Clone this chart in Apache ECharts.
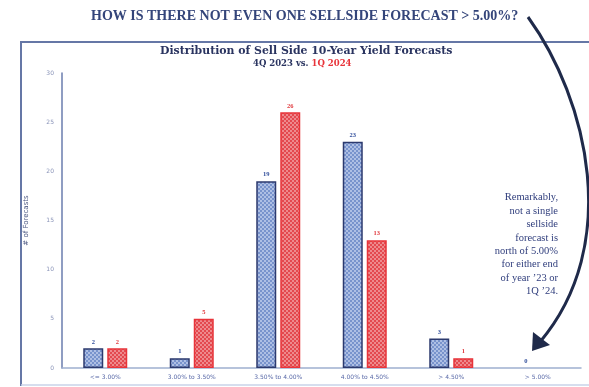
<!DOCTYPE html>
<html>
<head>
<meta charset="utf-8">
<script src="https://cdn.jsdelivr.net/npm/echarts@6/dist/echarts.min.js"></script>
<style>
  html, body { margin: 0; padding: 0; background: #fff; }
  #chart { width: 589px; height: 387px; }
</style>
</head>
<body>
<div id="chart"></div>
<script>
// Forecast buckets and counts of sell-side 10-year yield forecasts
const categories = ['<= 3.00%', '3.00% to 3.50%', '3.50% to 4.00%', '4.00% to 4.50%', '> 4.50%', '> 5.00%'];
const q4_2023 = [2, 1, 19, 23, 3, 0];
const q1_2024 = [2, 5, 26, 13, 1, 0];
const yTicks = [0, 5, 10, 15, 20, 25, 30];

// small woven fill texture for the bars
function weave(c1, c2) {
  const cv = document.createElement('canvas');
  cv.width = 4; cv.height = 4;
  const g = cv.getContext('2d');
  g.fillStyle = c1; g.fillRect(0, 0, 4, 4);
  g.fillStyle = c2;
  g.fillRect(0, 0, 2, 2); g.fillRect(2, 2, 2, 2);
  return { image: cv, repeat: 'repeat' };
}

// empty buckets get no outline so nothing is drawn on the baseline
const asItems = arr => arr.map(v => v === 0 ? { value: v, itemStyle: { borderWidth: 0 } } : v);

const navy = '#2c3a6e';
const blueFill = weave('#7893cc', '#aebfe4');
const redFill = weave('#e3494f', '#ee8a8d');

const chart = echarts.init(document.getElementById('chart'));

const labelFont = { fontSize: 6.5, fontFamily: 'Liberation Serif', fontWeight: 'bold' };

chart.setOption({
  animation: false,
  grid: { left: 62, right: 8, top: 73, bottom: 19 },
  xAxis: {
    type: 'category',
    data: categories,
    axisLine: { lineStyle: { color: '#9fb0d0', width: 1.5 } },
    axisTick: { show: false },
    axisLabel: { color: '#5a6aa8', fontSize: 6, fontFamily: 'DejaVu Sans', margin: 6, interval: 0 }
  },
  yAxis: {
    type: 'value',
    min: 0, max: 30, interval: 5,
    name: '# of Forecasts',
    nameLocation: 'middle',
    nameGap: 32,
    nameTextStyle: { color: '#4a5680', fontSize: 7, fontFamily: 'DejaVu Sans' },
    axisLine: { show: true, lineStyle: { color: '#6a7cae', width: 1.5 } },
    axisTick: { show: false },
    splitLine: { show: false },
    axisLabel: {
      color: '#8a94b8', fontSize: 6, fontFamily: 'DejaVu Sans', margin: 8,
      formatter: v => yTicks.includes(v) ? String(v) : ''
    }
  },
  series: [
    {
      name: '4Q 2023', type: 'bar', data: asItems(q4_2023),
      barWidth: 20, barGap: '20%',
      itemStyle: { color: blueFill, borderColor: navy, borderWidth: 1.5 },
      label: { show: true, position: 'top', distance: 3, color: '#2e4c9a', ...labelFont }
    },
    {
      name: '1Q 2024', type: 'bar', data: asItems(q1_2024),
      barWidth: 20,
      itemStyle: { color: redFill, borderColor: '#e8343a', borderWidth: 1.5 },
      label: {
        show: true, position: 'top', distance: 3, color: '#e03a3e', ...labelFont,
        formatter: p => p.value === 0 ? '' : String(p.value)
      }
    }
  ],
  graphic: [
    // frame around the chart panel
    { type: 'polyline', silent: true,
      shape: { points: [[600, 42], [21, 42], [21, 386]] },
      style: { stroke: '#6577a6', lineWidth: 2, fill: null } },
    { type: 'line', silent: true,
      shape: { x1: 21, y1: 385, x2: 600, y2: 385 },
      style: { stroke: '#c9d3e8', lineWidth: 1.5 } },
    // headline
    { type: 'text', x: 91, y: 9,
      style: { text: 'HOW IS THERE NOT EVEN ONE SELLSIDE FORECAST > 5.00%?',
        fill: '#34457a', font: 'bold 14px "Liberation Serif"' } },
    // chart title
    { type: 'text', x: 160, y: 46,
      style: { text: 'Distribution of Sell Side 10-Year Yield Forecasts',
        fill: '#2a3460', font: 'bold 10.9px "DejaVu Serif"' } },
    { type: 'text', x: 253, y: 59,
      style: {
        text: '{a|4Q 2023 vs. }{b|1Q 2024}',
        rich: {
          a: { fill: '#2a3460', font: 'bold 8.5px "DejaVu Serif"' },
          b: { fill: '#e8343a', font: 'bold 8.5px "DejaVu Serif"' }
        }
      } },
    // side note
    { type: 'text', x: 558, y: 191,
      style: {
        text: 'Remarkably,\nnot a single\nsellside\nforecast is\nnorth of 5.00%\nfor either end\nof year \u201923 or\n1Q \u201924.',
        fill: '#2f3d7c', font: '10.5px "Liberation Serif"', align: 'right', lineHeight: 13.4
      } },
    // curved arrow from the headline down to the empty bucket
    { type: 'bezierCurve', silent: true,
      shape: { x1: 528, y1: 17, cpx1: 588, cpy1: 100, cpx2: 622, cpy2: 245, x2: 540, y2: 342 },
      style: { stroke: '#1f2a4a', lineWidth: 3, fill: null } },
    { type: 'polygon', silent: true,
      shape: { points: [[532, 351], [533, 332], [550, 345]] },
      style: { fill: '#1f2a4a' } }
  ]
});
</script>
</body>
</html>
